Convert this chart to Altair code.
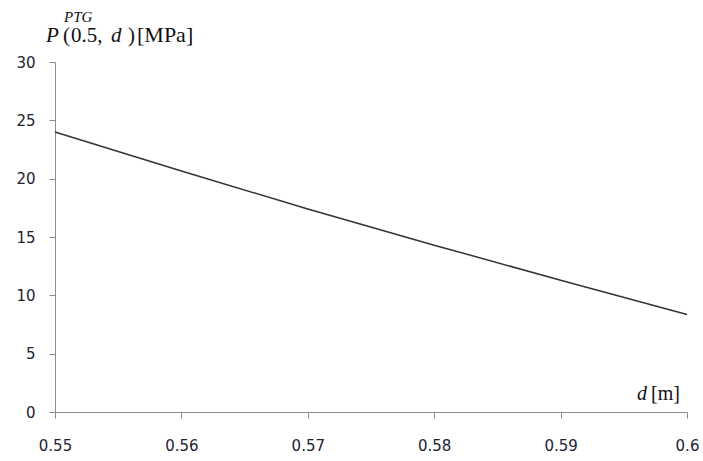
import altair as alt
import pandas as pd

d_vals = [0.55, 0.56, 0.57, 0.58, 0.59, 0.60]
p_vals = [24.0, 20.66, 17.4, 14.3, 11.3, 8.36]
x_ticks = [0.55, 0.56, 0.57, 0.58, 0.59, 0.60]
y_ticks = [0, 5, 10, 15, 20, 25, 30]

df = pd.DataFrame({"d": d_vals, "p": p_vals})

W, H = 632, 350

line = alt.Chart(df).mark_line(color="#333333", strokeWidth=1.5).encode(
    x=alt.X("d:Q", scale=alt.Scale(domain=[0.55, 0.60], nice=False, zero=False),
            axis=alt.Axis(values=x_ticks, format="~g", title=None, grid=False,
                          domainColor="#8c8c8c", tickColor="#8c8c8c", tickSize=6,
                          labelPadding=20, labelFont="DejaVu Sans", labelFontSize=15,
                          labelColor="#222233", labelFlush=False)),
    y=alt.Y("p:Q", scale=alt.Scale(domain=[0, 30], nice=False),
            axis=alt.Axis(values=y_ticks, title=None, grid=False,
                          domainColor="#8c8c8c", tickColor="#8c8c8c", tickSize=6,
                          labelPadding=14, labelFont="DejaVu Sans", labelFontSize=15,
                          labelColor="#222233")),
)

ox, oy = 55, 62
def txt(s, x, y, size, italic=False):
    return alt.Chart(pd.DataFrame({"t": [s]})).mark_text(
        text=s, font="Liberation Serif", fontSize=size,
        fontStyle="italic" if italic else "normal",
        align="left", baseline="alphabetic", color="#111111",
    ).encode(x=alt.value(x - ox), y=alt.value(y - oy))

labels = [
    txt("PTG", 64, 21.5, 15, True),
    txt("P", 46, 41.5, 21, True),
    txt("(", 63, 41.5, 21),
    txt("0.5,", 71, 41.5, 21),
    txt("d", 111, 41.5, 21, True),
    txt(")", 128, 41.5, 21),
    txt("[MPa]", 137, 41.5, 22),
    txt("d", 637, 400, 20, True),
    txt("[m]", 651, 400, 20),
]

chart = alt.layer(line, *labels).properties(
    width=W, height=H,
    background="white",
    autosize=alt.AutoSizeParams(type="none"),
    padding={"left": ox, "top": oy, "right": 703 - ox - W, "bottom": 461 - oy - H},
).configure_view(strokeWidth=0, stroke="transparent")

chart.save("out.html", embed_options={"renderer": "svg", "actions": False})
